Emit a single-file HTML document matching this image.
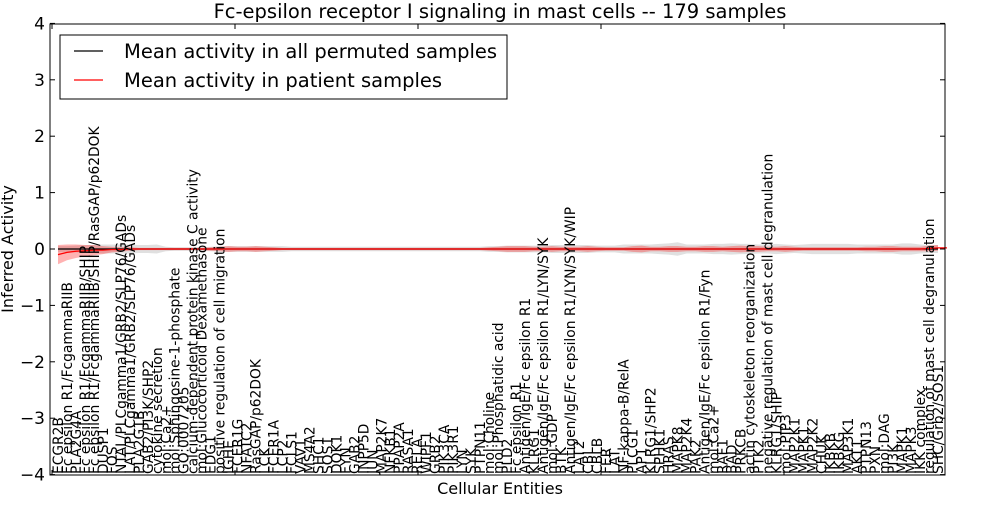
<!DOCTYPE html>
<html><head><meta charset="utf-8"><style>
body{margin:0;background:#fff;}
svg{font-family:"DejaVu Sans","Liberation Sans",sans-serif;}
</style></head><body>
<svg id="c" width="1000" height="500" viewBox="0 0 1000 500">
<rect x="0" y="0" width="1000" height="500" fill="#fff"/>
<text x="500" y="18" text-anchor="middle" font-size="19.5">Fc-epsilon receptor I signaling in mast cells -- 179 samples</text>
<g id="bands"></g>
<g id="labels"></g>
<rect x="50" y="24" width="895" height="451" fill="none" stroke="#000" stroke-width="1"/>
<g id="yaxis"></g>
<g id="xticks"></g>
<text x="500" y="494" text-anchor="middle" font-size="16">Cellular Entities</text>
<text transform="translate(13,249) rotate(-90)" text-anchor="middle" font-size="16">Inferred Activity</text>
<g>
<rect x="60" y="35" width="447" height="64" fill="#fff" stroke="#000" stroke-width="1"/>
<g><line x1="74" y1="51" x2="103" y2="51" stroke="#000" stroke-width="1.2"/><text x="124" y="58" font-size="19.5">Mean activity in all permuted samples</text></g>
<g><line x1="74" y1="80" x2="103" y2="80" stroke="#f00" stroke-width="1.2"/><text x="124" y="87" font-size="19.5">Mean activity in patient samples</text></g>
</g>
</svg>
<script>
const categories=["ECGR2B","Fc epsilon R1/FcgammaRIIB","PLA2G4A","Fc epsilon R1/FcgammaRIIB/SHIP","Fc epsilon R1/FcgammaRIIB/SHIP/RasGAP/p62DOK","DUSP1","FOS","NTAL/PLCgamma1/GRB2/SLP76/GADs","LAT/PLCgamma1/GRB2/SLP76/GADs","PLA2G1B","GAB2/PI3K/SHP2","cytokine secretion","mol:Ca2+","mol:Sphingosine-1-phosphate","GO:0007205","calcium-dependent protein kinase C activity","mol:Glucocorticoid Dexamethasone","EDG1","positive regulation of cell migration","IGHE","FCER1G","NFATC2","RasGAP/p62DOK","LCK","FCER1A","LCP2","FCLS1","VAV1","MS4A2","SHC1","SOS1","DOK1","FYN","GAB2","INPP5D","JUN","MAP2K7","NFKB1","PPAP2A","RASA1","RELA","WIPF1","GRB2","PIK3CA","PIK3R1","LYN","SYK","PTPN11","mol:Choline","mol:Phosphatidic acid","PLD2","Fc epsilon R1","Antigen/IgE/Fc epsilon R1","KLRG1","Antigen/IgE/Fc epsilon R1/LYN/SYK","mol:GDP","BTK","Antigen/IgE/Fc epsilon R1/LYN/SYK/WIP","LAT2","CBL","CBLB","FER","LAT","NF-kappa-B/RelA","PLCG1","AP1","KLRG1/SHP2","SPHK1","HRAS","MAPK8","MAP2K4","PAK2","Antigen/IgE/Fc epsilon R1/Fyn","mol:Ca2+","RAF1","BAD","PRKCB","actin cytoskeleton reorganization","PTK2","negative regulation of mast cell degranulation","KLRG1/SHIP","mol:PIP3","MAP2K1","MAPK1","MAP2K2","CHUK","IKBKB","IKBKG","MAP3K1","AKT1","PTPN13","PXN","mol:DAG","PI3K","MAPK1","MAPK3","IKK complex","regulation of mast cell degranulation","SHC/Grb2/SOS1"];
const patientMean=[-0.1,-0.06,-0.04,-0.03,-0.02,-0.02,-0.01,-0.01,0,0,0,0,0,0,0,0,0,0,0,0,0,0,0,0,0,0,0,0,0,0,0,0,0,0,0,0,0,0,0,0,0,0,0,0,0,0,0,0,0,0,0,0,0,0,0,0,0,0,0,0,0,0,0,0,0,0,0,0,0,0,0,0,0,0,0,0,0,0,0,0,0,0,0,0,0,0,0,0,0,0,0,0,0,0,0,0,0,0.01,0.02,0.02];
const patientSpread=[0.17,0.14,0.12,0.1,0.09,0.07,0.05,0.04,0.03,0.02,0.02,0.02,0.02,0.02,0.02,0.02,0.02,0.03,0.04,0.05,0.04,0.04,0.05,0.04,0.03,0.02,0.02,0.02,0.02,0.02,0.02,0.02,0.02,0.02,0.02,0.02,0.02,0.02,0.02,0.02,0.02,0.02,0.02,0.02,0.02,0.02,0.02,0.02,0.03,0.04,0.05,0.05,0.05,0.04,0.04,0.05,0.04,0.04,0.04,0.05,0.04,0.03,0.03,0.03,0.05,0.06,0.04,0.04,0.05,0.05,0.04,0.04,0.05,0.05,0.04,0.05,0.06,0.05,0.05,0.04,0.04,0.05,0.04,0.03,0.03,0.03,0.03,0.03,0.03,0.03,0.04,0.04,0.05,0.05,0.04,0.04,0.04,0.05,0.05,0.05];
const permutedSpread=[0.05,0.05,0.06,0.07,0.07,0.08,0.08,0.08,0.08,0.07,0.07,0.08,0.04,0.03,0.03,0.03,0.03,0.04,0.05,0.05,0.05,0.05,0.05,0.05,0.05,0.05,0.04,0.04,0.04,0.04,0.04,0.04,0.04,0.04,0.04,0.04,0.04,0.04,0.04,0.04,0.04,0.04,0.04,0.04,0.04,0.04,0.04,0.04,0.05,0.05,0.06,0.06,0.06,0.06,0.06,0.07,0.07,0.07,0.07,0.07,0.06,0.06,0.06,0.08,0.08,0.08,0.08,0.09,0.1,0.12,0.08,0.08,0.08,0.09,0.09,0.1,0.09,0.09,0.08,0.08,0.09,0.08,0.07,0.08,0.09,0.09,0.09,0.09,0.09,0.08,0.08,0.08,0.08,0.08,0.1,0.1,0.08,0.07,0.07,0.06];
const yTicks=[4,3,2,1,0,-1,-2,-3,-4];
const NS="http://www.w3.org/2000/svg";
const n=categories.length;
const xs=i=>58+i*(880/(n-1));
const ys=v=>249-v*56.4;
function mk(tag,attrs,parent){const e=document.createElementNS(NS,tag);for(const k in attrs)e.setAttribute(k,attrs[k]);parent.appendChild(e);return e;}
const bands=document.getElementById('bands');
function bandPath(mean,spread){let up="",dn="";for(let i=0;i<n;i++){up+=(i?"L":"M")+xs(i)+","+ys(mean[i]+spread[i]);}for(let i=n-1;i>=0;i--){dn+="L"+xs(i)+","+ys(mean[i]-spread[i]);}return up+dn+"Z";}
const zeros=categories.map(()=>0);
const g1=mk('path',{d:bandPath(zeros,permutedSpread),fill:'#cccccc','fill-opacity':'0.6',stroke:'none'},bands);


const r1=mk('path',{d:bandPath(patientMean,patientSpread),fill:'#f00','fill-opacity':'0.3',stroke:'none'},bands);


const bl=mk('path',{d:zeros.map((v,i)=>(i?"L":"M")+xs(i)+","+ys(v)).join(""),fill:'none',stroke:'#000','stroke-width':1.2},bands);


const rl=mk('path',{d:patientMean.map((v,i)=>(i?"L":"M")+xs(i)+","+ys(v)).join(""),fill:'none',stroke:'#f00','stroke-width':1.2},bands);


const lab=document.getElementById('labels');
categories.forEach((c,i)=>{const t=mk('text',{transform:`translate(${xs(i)+5},474) rotate(-90)`,'font-size':13.8},lab);t.textContent=c;

});
const ya=document.getElementById('yaxis');
yTicks.forEach(v=>{const y=ys(v);mk('line',{x1:50,y1:y,x2:55,y2:y,stroke:'#000'},ya);mk('line',{x1:940,y1:y,x2:945,y2:y,stroke:'#000'},ya);
const t=mk('text',{x:45,y:y+6,'text-anchor':'end','font-size':17},ya);t.textContent=v===0?"0":(v<0?"\u2212"+(-v):v);

});
const xt=document.getElementById('xticks');
for(let k=0;k<5;k++){const x=52+k*183;if(x>945)break;mk('line',{x1:x,y1:24,x2:x,y2:29,stroke:'#000'},xt);mk('line',{x1:x,y1:470,x2:x,y2:475,stroke:'#000'},xt);}
</script>
</body></html>
